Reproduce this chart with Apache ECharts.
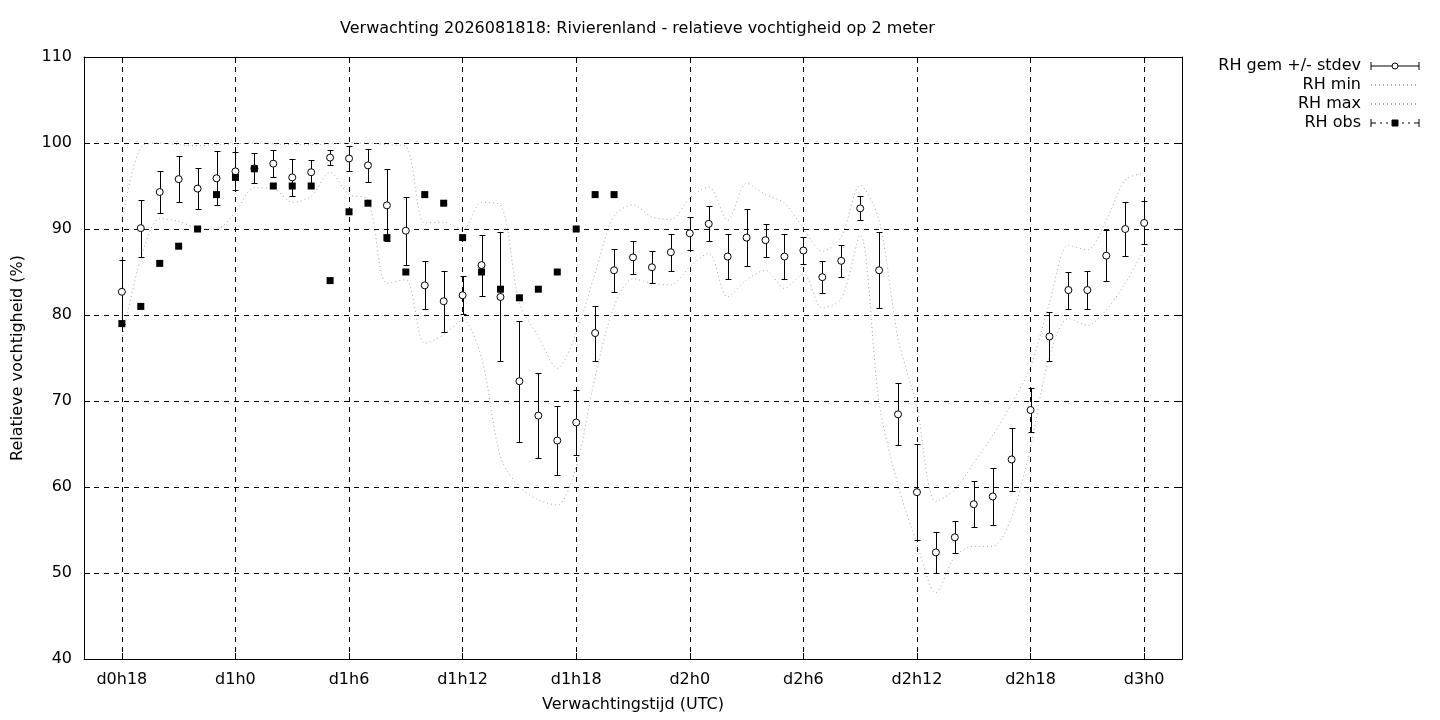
<!DOCTYPE html>
<html>
<head>
<meta charset="utf-8">
<title>Verwachting 2026081818: Rivierenland</title>
<script src="https://cdn.jsdelivr.net/npm/echarts@6/dist/echarts.min.js"></script>
<style>
html, body { margin: 0; padding: 0; background: #fff; }
#chart { width: 1440px; height: 720px; }
</style>
</head>
<body>
<div id="chart"></div>
<script>
// uren na d0h18
var hours = [0, 1, 2, 3, 4, 5, 6, 7, 8, 9, 10, 11, 12, 13, 14, 15, 16, 17, 18, 19,
	20, 21, 22, 23, 24, 25, 26, 27, 28, 29, 30, 31, 32, 33, 34, 35, 36, 37, 38, 39,
	40, 41, 42, 43, 44, 45, 46, 47, 48, 49, 50, 51, 52, 53, 54];

var rhMean = [82.7, 90.1, 94.3, 95.8, 94.7, 95.9, 96.7, 97.05, 97.6, 96.0,
	96.6, 98.3, 98.2, 97.4, 92.75, 89.8, 83.45, 81.6, 82.3, 85.8,
	82.1, 72.3, 68.3, 65.4, 67.5, 77.9, 85.2, 86.7, 85.55, 87.3,
	89.5, 90.6, 86.8, 89.0, 88.7, 86.8, 87.5, 84.4, 86.3, 92.4,
	85.2, 68.45, 59.4, 52.4, 54.15, 58.0, 58.9, 63.2, 68.95, 77.5,
	82.9, 82.9, 86.9, 90.0, 90.7];

var rhSd = [3.75, 3.3, 2.4, 2.65, 2.4, 3.15, 2.2, 1.75, 1.6, 2.15,
	1.45, 0.9, 1.45, 1.9, 4.2, 3.95, 2.8, 3.55, 2.2, 3.55,
	7.5, 7.05, 4.9, 4.0, 3.8, 3.2, 2.5, 1.9, 1.85, 2.15,
	1.9, 2.05, 2.6, 3.3, 1.9, 2.6, 1.6, 1.85, 1.85, 1.4,
	4.4, 3.6, 5.6, 2.35, 1.85, 2.65, 3.3, 3.65, 2.6, 2.9,
	2.15, 2.25, 3.0, 3.15, 2.5];

var rhMin = [77.1, 86.6, 91.2, 90.9, 90.1, 90.0, 92.0, 94.8, 94.7, 93.1,
	93.8, 96.6, 94.0, 93.4, 83.7, 84.1, 76.7, 77.7, 79.4, 75.0,
	63.5, 60.0, 58.5, 57.9, 62.4, 72.8, 81.0, 84.2, 83.7, 83.5,
	85.6, 87.2, 82.1, 84.1, 85.2, 83.1, 84.8, 80.8, 81.9, 89.3,
	69.8, 60.2, 53.4, 47.7, 51.9, 53.1, 53.1, 56.5, 64.7, 75.2,
	79.6, 78.8, 80.6, 83.7, 87.6];

var rhMax = [91.0, 99.5, 100, 99.8, 99.7, 99.8, 99.9, 100, 99.9, 99.8,
	99.8, 99.9, 100, 100, 99.8, 99.6, 90.7, 90.8, 89.9, 93.1,
	92.8, 81.4, 77.5, 73.8, 77.9, 84.9, 91.5, 92.8, 91.4, 91.1,
	93.6, 94.9, 91.0, 95.3, 94.0, 93.0, 90.1, 87.4, 89.1, 95.1,
	91.0, 77.3, 69.3, 58.3, 59.7, 62.8, 66.0, 69.7, 74.0, 81.4,
	88.1, 87.6, 91.0, 95.7, 96.5];

var obsHours = [0, 1, 2, 3, 4, 5, 6, 7, 8, 9, 10, 11, 12, 13, 14, 15, 16, 17, 18, 19,
	20, 21, 22, 23, 24, 25, 26];
var rhObs = [79, 81, 86, 88, 90, 94, 96, 97, 95, 95, 95, 84, 92, 93, 89, 85, 94, 93, 89, 85,
	83, 82, 83, 85, 90, 94, 94];

var tickHours = [0, 6, 12, 18, 24, 30, 36, 42, 48, 54];
var tickLabels = ['d0h18', 'd1h0', 'd1h6', 'd1h12', 'd1h18', 'd2h0', 'd2h6', 'd2h12', 'd2h18', 'd3h0'];

var FONT = 'DejaVu Sans';
var FS = 16;

// legenda-symbolen in gnuplot-stijl
var ICON_GEM = 'path://M0,0L0,8M48,0L48,8M0,4L21,4M27,4L48,4M27,4A3,3,0,1,1,21,4A3,3,0,1,1,27,4Z';
var ICON_OBS = 'path://M0,0L0,8M48,0L48,8M0,4L5,4M9,4L11,4M15,4L17,4M31,4L33,4M37,4L39,4M43,4L48,4M21,1L27,1L27,7L21,7Z';

function pairs(xs, ys) {
	var out = [];
	for (var i = 0; i < xs.length; i++) out.push([xs[i], ys[i]]);
	return out;
}

function barData() {
	var out = [];
	for (var i = 0; i < hours.length; i++) {
		out.push([hours[i], rhMean[i] - rhSd[i], rhMean[i] + rhSd[i]]);
	}
	return out;
}

// foutbalk met kapjes
function renderBar(params, api) {
	var x = api.value(0);
	var lo = api.coord([x, api.value(1)]);
	var hi = api.coord([x, api.value(2)]);
	var px = Math.round(lo[0]) + 0.5;
	var yl = Math.round(lo[1]) + 0.5;
	var yh = Math.round(hi[1]) + 0.5;
	var cap = 3;
	var st = { stroke: '#000', lineWidth: 1 };
	return {
		type: 'group',
		children: [
			{ type: 'line', shape: { x1: px, y1: yl, x2: px, y2: yh }, style: st },
			{ type: 'line', shape: { x1: px - cap, y1: yl, x2: px + cap, y2: yl }, style: st },
			{ type: 'line', shape: { x1: px - cap, y1: yh, x2: px + cap, y2: yh }, style: st }
		]
	};
}

var gridLine = { show: true, lineStyle: { color: '#000', width: 1, type: [5, 5] } };
var frameLine = { show: true, onZero: false, lineStyle: { color: '#000', width: 1 } };
var dotted = { color: '#a8a8a8', width: 1, type: [1, 3] };

var option = {
	animation: false,
	backgroundColor: '#fff',
	textStyle: { fontFamily: FONT, color: '#000' },
	title: {
		text: 'Verwachting 2026081818: Rivierenland - relatieve vochtigheid op 2 meter',
		left: 335,
		top: 16,
		textStyle: { fontFamily: FONT, fontSize: FS, fontWeight: 'normal', color: '#000' }
	},
	legend: {
		orient: 'vertical',
		right: 15,
		top: 53,
		align: 'right',
		itemWidth: 48,
		itemHeight: 8,
		itemGap: 3,
		selectedMode: false,
		textStyle: { fontFamily: FONT, fontSize: FS, color: '#000', padding: [0, 5, 0, 0] },
		data: [
			{ name: 'RH gem +/- stdev', icon: ICON_GEM,
				itemStyle: { color: '#fff', borderColor: '#000', borderWidth: 1, opacity: 1 } },
			{ name: 'RH min', itemStyle: { opacity: 0 } },
			{ name: 'RH max', itemStyle: { opacity: 0 } },
			{ name: 'RH obs', icon: ICON_OBS,
				itemStyle: { color: '#000', borderColor: '#000', borderWidth: 1, opacity: 1 } }
		]
	},
	grid: { left: 84, right: 258, top: 57, bottom: 61, containLabel: false },
	xAxis: [{
		type: 'value',
		min: -2,
		max: 56,
		name: 'Verwachtingstijd (UTC)',
		nameLocation: 'middle',
		nameGap: 38,
		nameTextStyle: { fontFamily: FONT, fontSize: FS, color: '#000' },
		axisLine: frameLine,
		axisTick: { show: true, inside: true, length: 6, customValues: tickHours, lineStyle: { color: '#000' } },
		axisLabel: {
			customValues: tickHours,
			margin: 13,
			fontFamily: FONT, fontSize: FS, color: '#000',
			formatter: function (v) { return tickLabels[tickHours.indexOf(v)]; }
		},
		splitLine: gridLine
	}, {
		type: 'value',
		position: 'top',
		min: -2,
		max: 56,
		axisLine: frameLine,
		axisTick: { show: true, inside: true, length: 6, customValues: tickHours, lineStyle: { color: '#000' } },
		axisLabel: { show: false },
		splitLine: { show: false }
	}],
	yAxis: [{
		type: 'value',
		min: 40,
		max: 110,
		interval: 10,
		name: 'Relatieve vochtigheid (%)',
		nameLocation: 'middle',
		nameRotate: 90,
		nameGap: 58,
		nameTextStyle: { fontFamily: FONT, fontSize: FS, color: '#000' },
		axisLine: frameLine,
		axisTick: { show: true, inside: true, length: 6, lineStyle: { color: '#000' } },
		axisLabel: { margin: 12, fontFamily: FONT, fontSize: FS, color: '#000' },
		splitLine: gridLine
	}, {
		type: 'value',
		position: 'right',
		min: 40,
		max: 110,
		interval: 10,
		axisLine: frameLine,
		axisTick: { show: true, inside: true, length: 6, lineStyle: { color: '#000' } },
		axisLabel: { show: false },
		splitLine: { show: false }
	}],
	series: [
		{
			name: 'RH min',
			type: 'line',
			data: pairs(hours, rhMin),
			symbol: 'none',
			smooth: 0.3,
			lineStyle: dotted,
			itemStyle: { color: '#a8a8a8' },
			z: 2
		},
		{
			name: 'RH max',
			type: 'line',
			data: pairs(hours, rhMax),
			symbol: 'none',
			smooth: 0.3,
			lineStyle: dotted,
			itemStyle: { color: '#a8a8a8' },
			z: 2
		},
		{
			name: 'stdev',
			type: 'custom',
			renderItem: renderBar,
			encode: { x: 0, y: [1, 2] },
			data: barData(),
			silent: true,
			z: 3
		},
		{
			name: 'RH gem +/- stdev',
			type: 'line',
			data: pairs(hours, rhMean),
			symbol: 'circle',
			symbolSize: 7,
			showAllSymbol: true,
			lineStyle: { opacity: 0 },
			itemStyle: { color: '#fff', borderColor: '#000', borderWidth: 1 },
			z: 4
		},
		{
			name: 'RH obs',
			type: 'line',
			data: pairs(obsHours, rhObs),
			symbol: 'rect',
			symbolSize: 7,
			showAllSymbol: true,
			lineStyle: { opacity: 0 },
			itemStyle: { color: '#000' },
			z: 5
		}
	]
};

var chart = echarts.init(document.getElementById('chart'));
chart.setOption(option);
</script>
</body>
</html>
